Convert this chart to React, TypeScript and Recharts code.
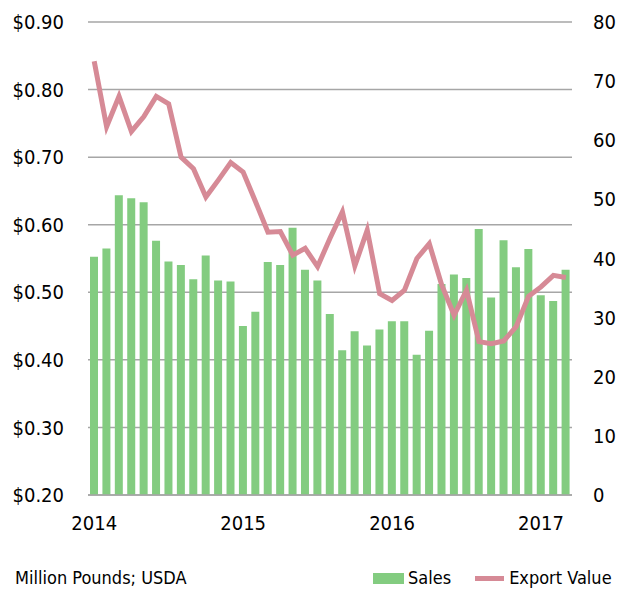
import { Bar, CartesianGrid, ComposedChart, Line, XAxis, YAxis } from 'recharts';

const months = [
  '2014-01', '2014-02', '2014-03', '2014-04', '2014-05', '2014-06', '2014-07', '2014-08', '2014-09', '2014-10', '2014-11', '2014-12',
  '2015-01', '2015-02', '2015-03', '2015-04', '2015-05', '2015-06', '2015-07', '2015-08', '2015-09', '2015-10', '2015-11', '2015-12',
  '2016-01', '2016-02', '2016-03', '2016-04', '2016-05', '2016-06', '2016-07', '2016-08', '2016-09', '2016-10', '2016-11', '2016-12',
  '2017-01', '2017-02', '2017-03',
];

// million pounds (right axis)
const sales = [
  40.3, 41.7, 50.7, 50.2, 49.5, 43.0, 39.5, 38.9, 36.5, 40.5, 36.3, 36.1,
  28.6, 31.0, 39.4, 38.9, 45.2, 38.1, 36.3, 30.6, 24.5, 27.7, 25.3, 28.0,
  29.4, 29.4, 23.7, 27.8, 35.7, 37.3, 36.7, 45.0, 33.4, 43.1, 38.5, 41.6,
  33.8, 32.8, 38.1,
];

// $ (left axis)
const exportValue = [
  0.842, 0.745, 0.79, 0.738, 0.76, 0.79, 0.779, 0.7, 0.683, 0.641, 0.666, 0.692,
  0.678, 0.634, 0.589, 0.59, 0.555, 0.565, 0.538, 0.58, 0.619, 0.539, 0.592, 0.498,
  0.488, 0.503, 0.55, 0.572, 0.511, 0.466, 0.503, 0.427, 0.424, 0.428, 0.449, 0.494,
  0.508, 0.525, 0.522,
];

const leftTicks = [0.2, 0.3, 0.4, 0.5, 0.6, 0.7, 0.8, 0.9];
const rightTicks = [0, 10, 20, 30, 40, 50, 60, 70, 80];

const data = months.map((m, i) => ({ month: m, sales: sales[i], exportValue: exportValue[i] }));

const FONT = "'DejaVu Sans Condensed', 'DejaVu Sans', sans-serif";
const GREEN = '#83CC80';
const PINK = '#D68A96';
const tickStyle = { fontSize: 20, fill: '#000', fontFamily: FONT };

export default function App() {
  return (
    <div style={{ position: 'absolute', left: 0, top: 0, width: 618, height: 593, background: '#fff', fontFamily: FONT }}>
      <ComposedChart width={618} height={545} data={data} margin={{ top: 22, right: 0, bottom: 0, left: 0 }}>
        <CartesianGrid vertical={false} yAxisId="left" stroke="#A6A6A6" strokeWidth={1.5} />
        <XAxis
          dataKey="month"
          interval={11}
          tickFormatter={(m: string) => m.slice(0, 4)}
          tick={tickStyle}
          tickLine={false}
          tickSize={0}
          tickMargin={21}
          height={50}
          axisLine={{ stroke: '#A6A6A6', strokeWidth: 1.5 }}
        />
        <YAxis
          yAxisId="left"
          domain={[0.2, 0.9]}
          ticks={leftTicks}
          tickFormatter={(v: number) => `$${v.toFixed(2)}`}
          tick={tickStyle}
          axisLine={false}
          tickLine={false}
          tickSize={0}
          tickMargin={24}
          width={88}
        />
        <YAxis
          yAxisId="right"
          orientation="right"
          domain={[0, 80]}
          ticks={rightTicks}
          tick={tickStyle}
          axisLine={false}
          tickLine={false}
          tickSize={0}
          tickMargin={21}
          width={46}
        />
        <Bar yAxisId="right" dataKey="sales" name="Sales" fill={GREEN} barSize={8} isAnimationActive={false} />
        <Line
          yAxisId="left"
          type="linear"
          dataKey="exportValue"
          name="Export Value"
          stroke={PINK}
          strokeWidth={5}
          dot={false}
          isAnimationActive={false}
        />
      </ComposedChart>
      <div style={{ position: 'absolute', left: 15, top: 567, fontSize: 18, color: '#000', lineHeight: '22px' }}>
        Million Pounds; USDA
      </div>
      <div style={{ position: 'absolute', left: 373, top: 567, fontSize: 18, color: '#000', lineHeight: '22px', display: 'flex', alignItems: 'center' }}>
        <span style={{ display: 'inline-block', width: 31, height: 11, background: GREEN, marginRight: 4 }} />
        <span>Sales</span>
        <span style={{ display: 'inline-block', width: 29, height: 5, background: PINK, marginLeft: 24, marginRight: 5 }} />
        <span>Export Value</span>
      </div>
    </div>
  );
}
